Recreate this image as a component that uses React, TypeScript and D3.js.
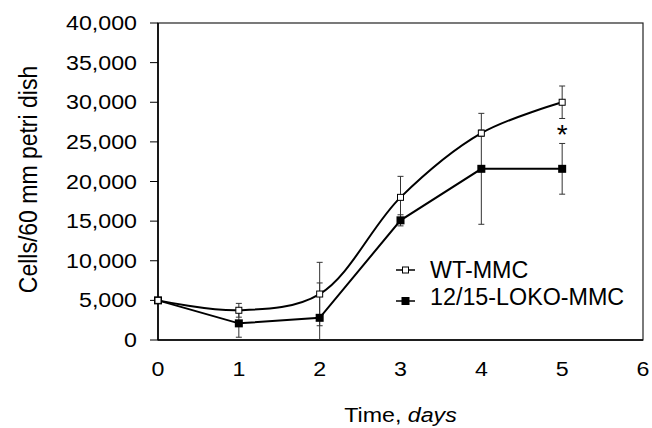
import * as d3 from "d3";

// days on the x axis
const days = [0, 1, 2, 3, 4, 5];
// WT-MMC means and error bars
const wtValues = [5000, 3750, 5800, 18000, 26100, 30000];
const wtErrors = [0, 870, 4000, 2650, 400, 2050];
// 12/15-LOKO-MMC means and error bars
const lokoValues = [5000, 2100, 2800, 15100, 21600, 21600];
const lokoErrors = [0, 1750, 4400, 700, 7000, 3200];
// tick labels
const xTicks = [0, 1, 2, 3, 4, 5, 6];
const yTicks = [0, 5000, 10000, 15000, 20000, 25000, 30000, 35000, 40000];
const seriesNames = ["WT-MMC", "12/15-LOKO-MMC"];
// significance mark above the day 5 LOKO error bar
const starDay = 5;
const starValue = 24700;

const width = 652,
  height = 428;
const margin = { top: 23, left: 158, right: 9, bottom: 88 };
const font = "'Liberation Sans', Arial, Helvetica, sans-serif";
const stretch = 1.16; // the source picture is a bit wider than tall

const App = () => {
  const x = d3
    .scaleLinear()
    .domain([0, 6])
    .range([margin.left, width - margin.right]);
  const y = d3
    .scaleLinear()
    .domain([0, 40000])
    .range([height - margin.bottom, margin.top]);
  const fmt = d3.format(",");

  const wtLine = d3
    .line<number>()
    .x((d, i) => x(days[i]))
    .y((d) => y(d))
    .curve(d3.curveCatmullRom.alpha(0.5));
  const lokoLine = d3
    .line<number>()
    .x((d, i) => x(days[i]))
    .y((d) => y(d));

  const errBar = (v: number, e: number, day: number, key: string) => {
    if (!e) return null;
    const lo = Math.max(v - e, 0);
    const hi = v + e;
    const cx = x(day);
    return (
      <g key={key} stroke="#333" strokeWidth={1}>
        <line x1={cx} x2={cx} y1={y(hi)} y2={y(lo)} />
        <line x1={cx - 3} x2={cx + 3} y1={y(hi)} y2={y(hi)} />
        {v - e > 0 && <line x1={cx - 3} x2={cx + 3} y1={y(lo)} y2={y(lo)} />}
      </g>
    );
  };

  const x0 = x(0),
    x6 = x(6),
    yTop = y(40000),
    yBot = y(0);

  const legendX = 396;
  const legendRows = [278, 305];

  return (
    <svg
      width={width}
      height={height}
      style={{ position: "absolute", left: 0, top: 0, background: "#fff" }}
      fontFamily={font}
    >
      <rect x={0} y={0} width={width} height={height} fill="#fff" />

      {/* plot frame */}
      <rect
        x={x0}
        y={yTop}
        width={x6 - x0}
        height={yBot - yTop}
        fill="none"
        stroke="#222"
        strokeWidth={1.2}
      />
      <line x1={x0} x2={x0} y1={yTop} y2={yBot} stroke="#000" strokeWidth={1.6} />
      <line x1={x0} x2={x6} y1={yBot} y2={yBot} stroke="#000" strokeWidth={1.6} />

      {/* y ticks */}
      {yTicks.map((t) => (
        <g key={"y" + t}>
          <line x1={x0 - 8} x2={x0} y1={y(t)} y2={y(t)} stroke="#000" strokeWidth={1} />
          <text
            transform={`translate(${x0 - 21},${y(t) + 7}) scale(${stretch},1)`}
            textAnchor="end"
            fontSize={20}
            fill="#000"
          >
            {fmt(t)}
          </text>
        </g>
      ))}

      {/* x tick labels */}
      {xTicks.map((t) => (
        <text
          key={"x" + t}
          transform={`translate(${x(t)},${yBot + 36}) scale(${stretch},1)`}
          textAnchor="middle"
          fontSize={20}
          fill="#000"
        >
          {t}
        </text>
      ))}

      {/* axis titles */}
      <text
        transform={`translate(37,${(yTop + yBot) / 2 - 2}) scale(${stretch},1) rotate(-90)`}
        textAnchor="middle"
        fontSize={23}
        fill="#000"
      >
        Cells/60 mm petri dish
      </text>
      <text
        transform={`translate(${(x0 + x6) / 2},${height - 6}) scale(${stretch},1)`}
        textAnchor="middle"
        fontSize={20}
        fill="#000"
      >
        Time, <tspan fontStyle="italic">days</tspan>
      </text>

      {/* error bars */}
      {days.map((d, i) => errBar(wtValues[i], wtErrors[i], d, "we" + i))}
      {days.map((d, i) => errBar(lokoValues[i], lokoErrors[i], d, "le" + i))}

      {/* lines */}
      <path d={wtLine(wtValues) || ""} fill="none" stroke="#000" strokeWidth={2} />
      <path d={lokoLine(lokoValues) || ""} fill="none" stroke="#000" strokeWidth={2} />

      {/* markers */}
      {days.map((d, i) => (
        <rect
          key={"lm" + i}
          x={x(d) - 4}
          y={y(lokoValues[i]) - 4}
          width={8}
          height={8}
          fill="#000"
        />
      ))}
      {days.map((d, i) => (
        <rect
          key={"wm" + i}
          x={x(d) - 3}
          y={y(wtValues[i]) - 3}
          width={6}
          height={6}
          fill="#fff"
          stroke="#000"
          strokeWidth={1}
        />
      ))}

      {/* significance */}
      <text
        x={x(starDay)}
        y={y(starValue)}
        textAnchor="middle"
        fontSize={28}
        fill="#000"
      >
        *
      </text>

      {/* legend */}
      {seriesNames.map((name, i) => {
        const ly = legendRows[i] - 8;
        return (
          <g key={name}>
            <line
              x1={legendX}
              x2={legendX + 19}
              y1={ly + (i === 1 ? 4 : 0)}
              y2={ly + (i === 1 ? 4 : 0)}
              stroke="#000"
              strokeWidth={1.5}
            />
            {i === 0 ? (
              <rect
                x={legendX + 6.5}
                y={ly - 3}
                width={6}
                height={6}
                fill="#fff"
                stroke="#000"
              />
            ) : (
              <rect x={legendX + 5.5} y={ly} width={8} height={8} fill="#000" />
            )}
            <text x={430} y={legendRows[i]} fontSize={23.3} fill="#000">
              {name}
            </text>
          </g>
        );
      })}
    </svg>
  );
};

export default App;
